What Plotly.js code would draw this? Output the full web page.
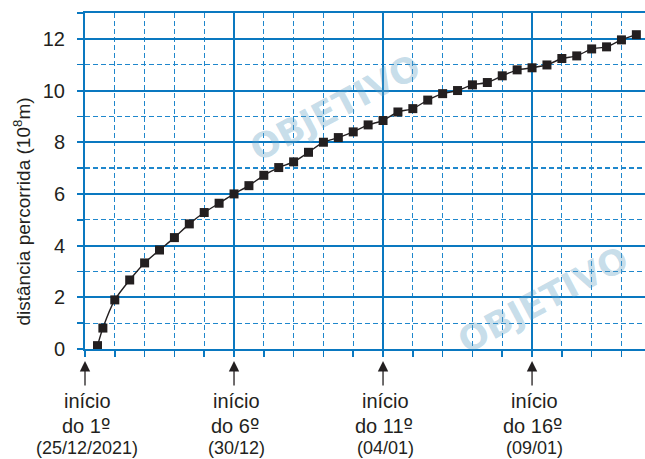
<!DOCTYPE html>
<html>
<head>
<meta charset="utf-8">
<script src="https://cdn.plot.ly/plotly-3.0.1.min.js"></script>
<style>html,body{margin:0;padding:0;background:#fff;}#chart{width:645px;height:459px;}</style>
</head>
<body>
<div id="chart"></div>
<script>
// days elapsed since the start of day 1 (25/12/2021)
const days = [0.42, 0.6, 1.0, 1.5, 2.0, 2.5, 3.0, 3.5, 4.0, 4.5, 5.0, 5.5, 6.0, 6.5, 7.0, 7.5, 8.0, 8.5, 9.0, 9.5,
              10.0, 10.5, 11.0, 11.5, 12.0, 12.5, 13.0, 13.5, 14.0, 14.5, 15.0, 15.5, 16.0, 16.5, 17.0, 17.5, 18.0, 18.5];
// distance travelled (10^8 m)
const distance = [0.13, 0.81, 1.90, 2.67, 3.33, 3.83, 4.31, 4.84, 5.28, 5.64, 6.00, 6.32, 6.72, 7.02, 7.24, 7.61, 8.00, 8.18, 8.40, 8.67,
                  8.84, 9.17, 9.30, 9.63, 9.88, 10.00, 10.22, 10.31, 10.57, 10.80, 10.88, 10.99, 11.24, 11.34, 11.61, 11.69, 11.96, 12.16];
// bottom markers
const markerDays = [0, 5, 10, 15];
const markerLine1 = ["início", "início", "início", "início"];
const markerOrdinals = ["1", "6", "11", "16"];
const markerDates = ["(25/12/2021)", "(30/12)", "(04/01)", "(09/01)"];
const yTitle = "distância percorrida (10<sup>8</sup>m)";
const watermark = "OBJETIVO";

const ink = "#231f20";
const blueSolid = "#0a78c0";
const blueDash = "#1f87cc";
const font = "Liberation Sans, Arial, sans-serif";

const trace = {
  x: days, y: distance, type: "scatter", mode: "lines+markers",
  line: {color: ink, width: 1.4, shape: "spline", smoothing: 0.6},
  marker: {symbol: "square", size: 9, color: ink},
  cliponaxis: false, hoverinfo: "skip"
};

const annotations = [];
// faint watermark (drawn first)
[[(335 - 85) / 560, (349 - 108) / 336], [(543 - 85) / 560, (349 - 300) / 336]].forEach(p => {
  annotations.push({xref: "paper", yref: "paper", x: p[0], y: p[1], text: "<b>" + watermark + "</b>", textangle: -28,
    showarrow: false, xanchor: "center", yanchor: "middle",
    font: {family: "DejaVu Sans, sans-serif", size: 35, color: "rgba(95,160,196,0.36)"}});
});
// y-axis title
annotations.push({xref: "paper", yref: "paper", x: -0.1125, y: 0.409, text: yTitle, textangle: -90,
  showarrow: false, xanchor: "center", yanchor: "middle", font: {family: font, size: 19, color: ink}});
markerDays.forEach((d, i) => {
  annotations.push({xref: "x", yref: "paper", x: d, y: (349 - 361) / 336, ax: 0, ay: 26, axref: "pixel", ayref: "pixel",
    text: "", showarrow: true, arrowhead: 2, arrowsize: 1.6, arrowwidth: 1.3, arrowcolor: ink, standoff: 0});
  annotations.push({xref: "x", yref: "paper", x: d, y: (349 - 401) / 336, xshift: 2, text: markerLine1[i], showarrow: false,
    xanchor: "center", yanchor: "middle", font: {family: font, size: 20, color: ink}});
  annotations.push({xref: "x", yref: "paper", x: d, y: (349 - 425.5) / 336, xshift: 1,
    text: "do " + markerOrdinals[i] + "<span style=\"font-family:'DejaVu Sans'\">º</span>", showarrow: false,
    xanchor: "center", yanchor: "middle", font: {family: font, size: 20, color: ink}});
  annotations.push({xref: "x", yref: "paper", x: d, y: (349 - 448) / 336, xshift: 2, text: markerDates[i], showarrow: false,
    xanchor: "center", yanchor: "middle", font: {family: font, size: 18, color: ink}});
});

const layout = {
  width: 645, height: 459,
  margin: {l: 85, r: 0, t: 13, b: 110, pad: 0},
  paper_bgcolor: "#fff", plot_bgcolor: "#fff",
  showlegend: false,
  xaxis: {
    range: [0, 18.79], tick0: 0, dtick: 5, showticklabels: false,
    showgrid: true, gridcolor: blueSolid, gridwidth: 2,
    zeroline: false, showline: true, linecolor: blueSolid, linewidth: 2, mirror: true,
    ticks: "outside", ticklen: 6, tickwidth: 2, tickcolor: blueSolid,
    minor: {dtick: 1, tick0: 0, showgrid: true, gridcolor: blueDash, gridwidth: 1.2, griddash: "5px,3px",
            ticks: "outside", ticklen: 6, tickwidth: 1.5, tickcolor: blueSolid},
    fixedrange: true
  },
  yaxis: {
    range: [0, 13], tickvals: [0, 2, 4, 6, 8, 10, 12],
    showgrid: true, gridcolor: blueSolid, gridwidth: 2,
    zeroline: false, showline: true, linecolor: blueSolid, linewidth: 2,
    ticks: "outside", ticklen: 6, tickwidth: 2, tickcolor: blueSolid,
    ticklabelstandoff: 8,
    tickfont: {family: font, size: 20, color: ink},
    minor: {dtick: 1, tick0: 0, showgrid: true, gridcolor: blueDash, gridwidth: 1.2, griddash: "5px,3px",
            ticks: "outside", ticklen: 6, tickwidth: 1.5, tickcolor: blueSolid},
    fixedrange: true
  },
  annotations: annotations
};

Plotly.newPlot("chart", [trace], layout, {displayModeBar: false, staticPlot: true});
</script>
</body>
</html>
